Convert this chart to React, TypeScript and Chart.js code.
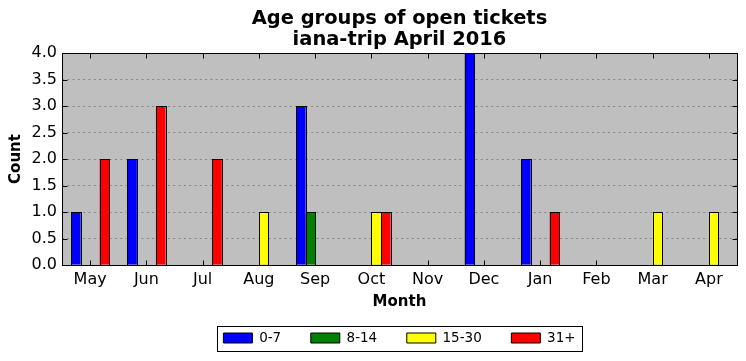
import React, { useEffect, useRef } from 'react';
import { Chart, registerables } from 'chart.js';

Chart.register(...registerables);

const months = ['May', 'Jun', 'Jul', 'Aug', 'Sep', 'Oct', 'Nov', 'Dec', 'Jan', 'Feb', 'Mar', 'Apr'];
const age0to7 = [1, 2, 0, 0, 3, 0, 0, 4, 2, 0, 0, 0];
const age8to14 = [0, 0, 0, 0, 1, 0, 0, 0, 0, 0, 0, 0];
const age15to30 = [0, 0, 0, 1, 0, 1, 0, 0, 0, 0, 1, 1];
const age31plus = [2, 3, 2, 0, 0, 1, 0, 0, 1, 0, 0, 0];
const seriesLabels = ['0-7', '8-14', '15-30', '31+'];
const seriesColors = ['#0000ff', '#008000', '#ffff00', '#ff0000'];
const titleLines = ['Age groups of open tickets', 'iana-trip April 2016'];
const yTitle = 'Count';
const xTitle = 'Month';

const FONT = "'DejaVu Sans', sans-serif";

const framePlugin = {
  id: 'mplFrame',
  beforeDraw(chart: any) {
    const { ctx, chartArea: a } = chart;
    ctx.save();
    ctx.fillStyle = '#bfbfbf';
    ctx.fillRect(a.left, a.top, a.right - a.left, a.bottom - a.top);
    ctx.restore();
  },
  afterDatasetsDraw(chart: any) {
    const { ctx, chartArea: a } = chart;
    ctx.save();
    ctx.strokeStyle = '#000';
    ctx.lineWidth = 1;
    ctx.setLineDash([]);
    // crisp outlines of each bar (matplotlib edge style)
    chart.data.datasets.forEach((ds: any, di: number) => {
      const meta = chart.getDatasetMeta(di);
      meta.data.forEach((el: any, j: number) => {
        if (!ds.data[j]) return;
        const p = el.getProps(['x', 'y', 'base', 'width'], true);
        const l = Math.round(p.x - p.width / 2);
        const r = Math.round(p.x + p.width / 2);
        const t = Math.round(p.y);
        const b = Math.round(p.base);
        ctx.strokeRect(l + 0.5, t + 0.5, r - l, b - t);
      });
    });
    const L = Math.round(a.left) + 0.5;
    const R = Math.round(a.right) + 0.5;
    const T = Math.round(a.top) + 0.5;
    const B = Math.round(a.bottom) + 0.5;
    const len = 5;
    const xs = chart.scales.x;
    ctx.beginPath();
    for (let i = 0; i < xs.ticks.length; i++) {
      const x = Math.round(xs.getPixelForTick(i)) + 0.5;
      ctx.moveTo(x, B);
      ctx.lineTo(x, B - len);
      ctx.moveTo(x, T);
      ctx.lineTo(x, T + len);
    }
    const ys = chart.scales.y;
    for (let i = 0; i < ys.ticks.length; i++) {
      const y = Math.round(ys.getPixelForTick(i)) + 0.5;
      ctx.moveTo(L, y);
      ctx.lineTo(L + len, y);
      ctx.moveTo(R, y);
      ctx.lineTo(R - len, y);
    }
    ctx.stroke();
    ctx.strokeRect(L, T, R - L, B - T);
    ctx.restore();
  },
  afterDraw(chart: any) {
    const lg = chart.legend;
    if (!lg || !lg.legendHitBoxes || !lg.legendHitBoxes.length) return;
    const hb = lg.legendHitBoxes;
    const first = hb[0];
    const last = hb[hb.length - 1];
    const left = Math.round(first.left - 6) + 0.5;
    const right = Math.round(last.left + last.width + 6) + 0.5;
    const top = Math.round(first.top - 5.5) + 0.5;
    const bottom = Math.round(first.top + first.height + 6) + 0.5;
    const { ctx } = chart;
    ctx.save();
    ctx.strokeStyle = '#000';
    ctx.lineWidth = 1;
    ctx.strokeRect(left, top, right - left, bottom - top);
    ctx.restore();
  },
};

export default function App() {
  const canvasRef = useRef<HTMLCanvasElement | null>(null);

  useEffect(() => {
    document.body.style.margin = '0';
    const canvas = canvasRef.current;
    if (!canvas) return;
    const seriesData = [age0to7, age8to14, age15to30, age31plus];
    const defaultGen = (Chart.defaults as any).plugins.legend.labels.generateLabels;
    const chart = new Chart(canvas, {
      type: 'bar',
      data: {
        labels: months,
        datasets: seriesData.map((d, i) => ({
          label: seriesLabels[i],
          data: d,
          backgroundColor: seriesColors[i],
          borderColor: '#000000',
          borderWidth: 0,
          borderSkipped: false,
          inflateAmount: 0,
          categoryPercentage: 0.68,
          barPercentage: 1.0,
        })),
      },
      options: {
        animation: false,
        responsive: true,
        maintainAspectRatio: false,
        devicePixelRatio: 1,
        layout: { padding: { left: 0, right: 9, top: 0, bottom: 6.25 } },
        plugins: {
          title: {
            display: true,
            text: titleLines,
            color: '#000',
            fullSize: false,
            font: { family: FONT, size: 19.44, weight: 'bold', lineHeight: '21px' },
            padding: { top: 8.8, bottom: 2.2 },
          },
          legend: {
            display: true,
            position: 'bottom',
            fullSize: false,
            labels: {
              color: '#000',
              font: { family: FONT, size: 13.5 },
              boxWidth: 29,
              boxHeight: 10,
              padding: 29.6,
              generateLabels: (c: any) =>
                defaultGen(c).map((it: any) => ({ ...it, lineWidth: 1, strokeStyle: '#000000' })),
            },
          },
          tooltip: { enabled: false },
        },
        scales: {
          x: {
            grid: { display: false, drawTicks: false },
            border: { display: false },
            ticks: { color: '#000', font: { family: FONT, size: 16 }, padding: 5, maxRotation: 0 },
            title: {
              display: true,
              text: xTitle,
              color: '#000',
              font: { family: FONT, size: 15, weight: 'bold', lineHeight: 1.2 },
              padding: { top: 0, bottom: -9.85 },
            },
            afterFit: (scale: any) => {
              scale.height = 36.65;
            },
          },
          y: {
            min: 0,
            max: 4,
            grid: { color: '#858585', lineWidth: 1, drawTicks: false },
            border: { display: false, dash: [2, 3.3] },
            ticks: {
              stepSize: 0.5,
              color: '#000',
              font: { family: FONT, size: 16 },
              padding: 5,
              callback: (v: any) => Number(v).toFixed(1),
            },
            title: {
              display: true,
              text: yTitle,
              color: '#000',
              font: { family: FONT, size: 15, weight: 'bold', lineHeight: 1.2 },
              padding: { top: 6.7, bottom: 0 },
            },
            afterFit: (scale: any) => {
              scale.width = 62;
            },
          },
        },
      },
      plugins: [framePlugin],
    } as any);
    return () => chart.destroy();
  }, []);

  return (
    <div style={{ position: 'absolute', left: 0, top: 0, width: 746, height: 361 }}>
      <canvas ref={canvasRef} />
    </div>
  );
}
